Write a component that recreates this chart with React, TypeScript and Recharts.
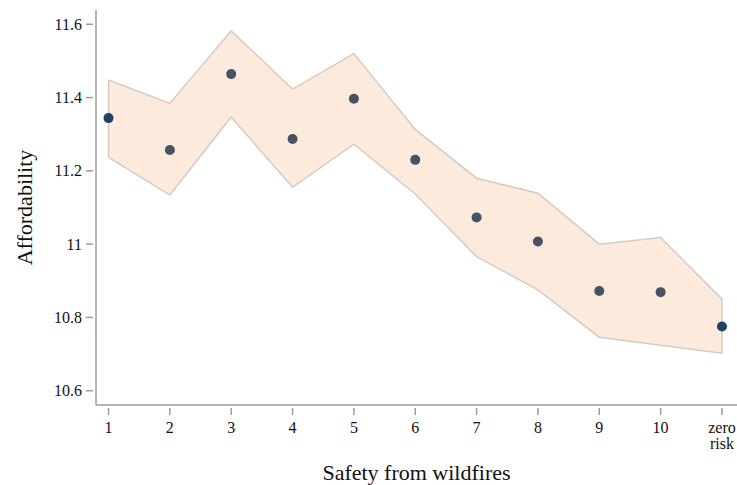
import {
  ComposedChart,
  Area,
  Scatter,
  Cell,
  XAxis,
  YAxis,
  ReferenceLine,
  Label,
} from 'recharts';

// risk levels along the x axis (11 = "zero risk")
const levels = [1, 2, 3, 4, 5, 6, 7, 8, 9, 10, 11];
const levelLabels = ['1', '2', '3', '4', '5', '6', '7', '8', '9', '10', 'zero risk'];

// point estimates and confidence bounds
const estimate = [11.344, 11.257, 11.464, 11.287, 11.397, 11.23, 11.073, 11.007, 10.872, 10.869, 10.775];
const upperBound = [11.448, 11.384, 11.582, 11.423, 11.52, 11.313, 11.18, 11.139, 11.0, 11.018, 10.85];
const lowerBound = [11.237, 11.134, 11.347, 11.155, 11.273, 11.137, 10.966, 10.875, 10.746, 10.724, 10.702];

const yTicks = [10.6, 10.8, 11, 11.2, 11.4, 11.6];

const data = levels.map((x, i) => ({
  x,
  estimate: estimate[i],
  band: [lowerBound[i], upperBound[i]],
}));

const FONT = "'Liberation Serif', 'Times New Roman', serif";
const AXIS = '#9c9c9c';
const BAND_FILL = '#fcebdc';
const BAND_LINE = '#d6cbc3';
const DOT = '#475262';
const DOT_END = '#1f4068';

function XTick({ x, y, payload }: any) {
  const idx = levels.indexOf(payload.value);
  const lines = (levelLabels[idx] ?? String(payload.value)).split(' ');
  return (
    <g>
      <line x1={x} x2={x} y1={y + 3} y2={y + 10} stroke={AXIS} strokeWidth={1.5} />
      <text x={x} y={y + 28} textAnchor="middle" style={{ fontFamily: FONT, fontSize: 16 }} fill="#111">
        {lines.map((l: string, i: number) => (
          <tspan key={i} x={x} dy={i === 0 ? 0 : 16}>
            {l}
          </tspan>
        ))}
      </text>
    </g>
  );
}

function YTick({ x, y, payload }: any) {
  return (
    <g>
      <line x1={x - 10} x2={x - 3} y1={y} y2={y} stroke={AXIS} strokeWidth={1.5} />
      <text x={x - 14} y={y} dy="0.35em" textAnchor="end" style={{ fontFamily: FONT, fontSize: 16 }} fill="#111">
        {payload.value}
      </text>
    </g>
  );
}

const Dot = ({ cx, cy, fill }: any) => <circle cx={cx} cy={cy} r={5} fill={fill} />;

const last = levels.length - 1;

export default function App() {
  return (
    <div style={{ position: 'absolute', left: 0, top: 0, background: '#fff' }}>
      <ComposedChart width={737} height={485} data={data} margin={{ top: 10, right: 0, bottom: 0, left: 0 }}>
        <XAxis
          dataKey="x"
          type="number"
          domain={[0.796, 11.245]}
          ticks={levels}
          allowDataOverflow
          height={80}
          tickSize={0}
          tickMargin={0}
          tickLine={false}
          axisLine={{ stroke: AXIS, strokeWidth: 1.5 }}
          tick={<XTick />}
        >
          <Label
            value="Safety from wildfires"
            position="insideBottom"
            offset={5}
            style={{ fontFamily: FONT, fontSize: 22, fill: '#111' }}
          />
        </XAxis>
        <YAxis
          type="number"
          domain={[10.561, 11.639]}
          ticks={yTicks}
          allowDataOverflow
          width={96}
          tickSize={0}
          tickMargin={0}
          tickLine={false}
          axisLine={{ stroke: AXIS, strokeWidth: 1.5 }}
          tick={<YTick />}
        >
          <Label
            value="Affordability"
            angle={-90}
            position="insideLeft"
            offset={24}
            style={{ fontFamily: FONT, fontSize: 22, fill: '#111', textAnchor: 'middle' }}
          />
        </YAxis>
        <Area
          type="linear"
          dataKey="band"
          fill={BAND_FILL}
          fillOpacity={1}
          stroke={BAND_LINE}
          strokeWidth={1.5}
          isAnimationActive={false}
          activeDot={false}
        />
        {/* close the band at both ends */}
        <ReferenceLine
          segment={[
            { x: levels[0], y: lowerBound[0] },
            { x: levels[0], y: upperBound[0] },
          ]}
          stroke={BAND_LINE}
          strokeWidth={1.5}
        />
        <ReferenceLine
          segment={[
            { x: levels[last], y: lowerBound[last] },
            { x: levels[last], y: upperBound[last] },
          ]}
          stroke={BAND_LINE}
          strokeWidth={1.5}
        />
        <Scatter dataKey="estimate" isAnimationActive={false} shape={<Dot />}>
          {data.map((_, i) => (
            <Cell key={i} fill={i === 0 || i === last ? DOT_END : DOT} />
          ))}
        </Scatter>
      </ComposedChart>
    </div>
  );
}
